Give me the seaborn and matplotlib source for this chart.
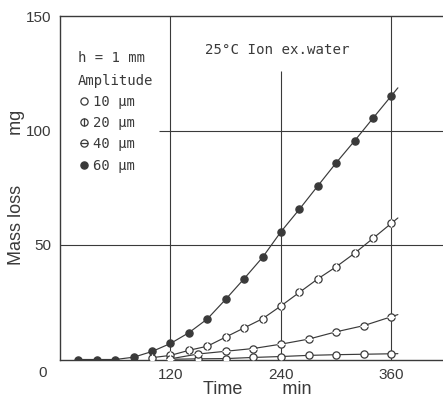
import matplotlib
matplotlib.use("Agg")
import numpy as np
import pandas as pd
import matplotlib.pyplot as plt
import seaborn as sns
from matplotlib.lines import Line2D

# Mass loss (mg) against exposure time (min) for each vibration amplitude
time_10 = [120, 150, 180, 210, 240, 270, 300, 330, 360]
mass_10 = [0.1, 0.3, 0.4, 0.9, 1.3, 1.8, 2.1, 2.3, 2.5]

time_20 = [100, 120, 140, 160, 180, 200, 220, 240, 260, 280, 300, 320, 340, 360]
mass_20 = [0.8, 1.8, 4.0, 5.8, 9.8, 13.8, 17.8, 23.4, 29.3, 35.2, 40.5, 46.4, 52.9, 59.5]

time_40 = [120, 150, 180, 210, 240, 270, 300, 330, 360]
mass_40 = [0.3, 2.4, 3.6, 4.8, 6.7, 8.9, 12.1, 14.8, 18.7]

time_60 = [20, 40, 60, 80, 100, 120, 140, 160, 180, 200, 220, 240, 260, 280, 300, 320, 340, 360]
mass_60 = [0.0, 0.0, 0.0, 1.0, 3.5, 7.0, 11.7, 17.7, 26.3, 35.3, 44.6, 55.8, 65.6, 75.8, 85.9, 95.5, 105.4, 115.2]

amplitudes = ["10 \u00b5m", "20 \u00b5m", "40 \u00b5m", "60 \u00b5m"]
x_ticks = [120, 240, 360]
y_ticks = [50, 100, 150]

ink = "#3a3a3a"
sans_font = ["Liberation Sans", "DejaVu Sans"]
mono_font = ["DejaVu Sans Mono", "DejaVu Sans"]

sns.set_theme(style="white")
plt.rcParams["font.family"] = sans_font
plt.rcParams["text.color"] = ink
plt.rcParams["axes.labelcolor"] = ink

fig = plt.figure(figsize=(4.43, 4.03), dpi=100)
ax = fig.add_axes([60 / 443, 1 - 359.5 / 403, 383 / 443, 343.5 / 403])

series = {
    amplitudes[0]: (time_10, mass_10, "white", None),
    amplitudes[1]: (time_20, mass_20, "white", "|"),
    amplitudes[2]: (time_40, mass_40, "white", "_"),
    amplitudes[3]: (time_60, mass_60, ink, None),
}

frames = [pd.DataFrame({"time": t, "mass": m, "amp": name}) for name, (t, m, _, _) in series.items()]
data = pd.concat(frames, ignore_index=True)

handles = []
for name, (t, m, face, bar) in series.items():
    sub = data[data["amp"] == name]
    # short run-out a few minutes past the last reading
    t_arr = np.asarray(t, float)
    m_arr = np.asarray(m, float)
    slope = (m_arr[-1] - m_arr[-2]) / (t_arr[-1] - t_arr[-2])
    ext_t = np.append(t_arr, t_arr[-1] + 7)
    ext_m = np.append(m_arr, m_arr[-1] + slope * 7)
    sns.lineplot(x=ext_t, y=ext_m, ax=ax, color=ink, lw=0.85, zorder=3)
    sns.lineplot(data=sub, x="time", y="mass", ax=ax, linestyle="", marker="o",
                 markersize=5.2, markerfacecolor=face, markeredgecolor=ink,
                 markeredgewidth=0.9, color=ink, zorder=4)
    h_circle = Line2D([], [], linestyle="", marker="o", markersize=5.2,
                      markerfacecolor=face, markeredgecolor=ink, markeredgewidth=0.9)
    if bar is not None:
        sns.lineplot(data=sub, x="time", y="mass", ax=ax, linestyle="", marker=bar,
                     markersize=5.2, markeredgewidth=0.9, color=ink, zorder=5)
        h_bar = Line2D([], [], linestyle="", marker=bar, markersize=5.2,
                       color=ink, markeredgewidth=0.9)
        handles.append((h_circle, h_bar))
    else:
        handles.append(h_circle)

ax.set_xlim(0, 416)
ax.set_ylim(0, 150)

# reference grid, interrupted under the legend and the condition note
for xv in x_ticks:
    top = 126 if xv == 240 else 150
    ax.vlines(xv, 0, top, color=ink, lw=0.8, zorder=1)
ax.hlines(50, 0, 416, color=ink, lw=0.8, zorder=1)
ax.hlines(100, 108, 416, color=ink, lw=0.8, zorder=1)

ax.set_xticks(x_ticks)
ax.set_yticks(y_ticks)
ax.set_xticklabels([str(v) for v in x_ticks])
ax.set_yticklabels([str(v) for v in y_ticks])
ax.tick_params(direction="in", length=4, width=0.8, color=ink, labelcolor=ink, labelsize=11)
ax.tick_params(axis="x", pad=6)
ax.tick_params(axis="y", pad=6)
ax.text(-17 / 383, -13.5 / 343.5, "0", transform=ax.transAxes, ha="center", va="center",
        fontsize=11, color=ink)

for side in ["left", "bottom", "top"]:
    ax.spines[side].set_color(ink)
    ax.spines[side].set_linewidth(1.0)
ax.spines["right"].set_visible(False)

ax.set_xlabel("Time        min", fontsize=13)
ax.xaxis.set_label_coords((257 - 60) / 383, -0.062)
ax.set_ylabel("Mass loss          mg", fontsize=13)
ax.yaxis.set_label_coords(-0.092, 0.5)

ax.text(158, 135, "25\u00b0C Ion ex.water", fontsize=10.2, family=mono_font,
        ha="left", va="center", color=ink)

leg = ax.legend(handles, amplitudes, title="h = 1 mm\nAmplitude", loc="upper left",
                bbox_to_anchor=(0.047, 0.897), frameon=False, borderpad=0, borderaxespad=0,
                handlelength=0.8, handletextpad=0.25, labelspacing=0.52,
                prop={"family": mono_font, "size": 10}, alignment="left")
title = leg.get_title()
title.set_fontfamily(mono_font)
title.set_fontsize(10)
title.set_color(ink)
title.set_linespacing(1.75)
for txt in leg.get_texts():
    txt.set_color(ink)

fig.savefig("out.png", dpi=100, facecolor="white")
